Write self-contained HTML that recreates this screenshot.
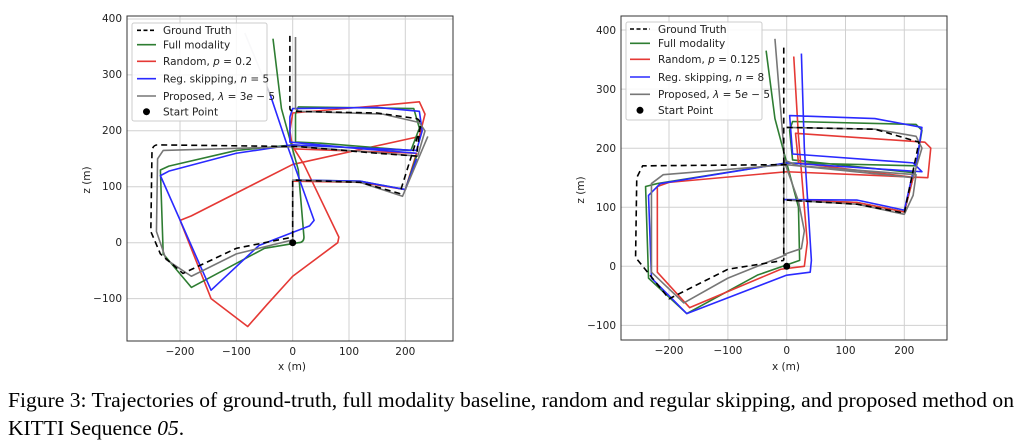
<!DOCTYPE html>
<html><head><meta charset="utf-8"><style>
body{margin:0;background:#fff;width:1024px;height:444px;overflow:hidden}
svg{position:absolute;left:0;top:0}
.t{font-family:"DejaVu Sans","Liberation Sans",sans-serif;font-size:10.5px;fill:#222}
.cap{font-family:"Liberation Serif",serif;font-size:21.5px;fill:#000}
.g{stroke:#d0d0d0;stroke-width:1}
path.s{fill:none;stroke-width:1.6;vector-effect:non-scaling-stroke;stroke-linejoin:round}
</style></head><body>
<svg width="1024" height="444">
<!-- LEFT PLOT -->
<g class="g">
<line x1="180" y1="16" x2="180" y2="341"/><line x1="236.4" y1="16" x2="236.4" y2="341"/><line x1="292.7" y1="16" x2="292.7" y2="341"/><line x1="349" y1="16" x2="349" y2="341"/><line x1="405.3" y1="16" x2="405.3" y2="341"/>
<line x1="127" y1="19" x2="453" y2="19"/><line x1="127" y1="74.9" x2="453" y2="74.9"/><line x1="127" y1="130.8" x2="453" y2="130.8"/><line x1="127" y1="186.8" x2="453" y2="186.8"/><line x1="127" y1="242.7" x2="453" y2="242.7"/><line x1="127" y1="298.6" x2="453" y2="298.6"/>
</g>
<g transform="translate(292.7,242.7) scale(0.563,-0.559)">
<path class="s" stroke="#e53935" d="M0 110 L120 108 L200 95 L220 160 L0 168 L-5 200 L0 232 L150 245 L225 252 L235 230 L225 190 L0 140 L-180 48 L-200 40 L-145 -100 L-80 -150 L-45 -110 L0 -60 L80 0 L82 10 L20 140 L0 172"/>
<path class="s" stroke="#2e7d32" d="M-35 365 L-20 240 L10 130 L20 10 Q20 0 10 0 L-50 -10 L-180 -80 L-230 -20 L-235 130 L-220 137 L-100 165 L0 175 L210 165 L225 205 L215 240 L10 243 L5 230 L5 180 L50 178 L210 165 M5 112 L120 110 L200 95 L220 155"/>
<path class="s" stroke="#2a2aff" d="M-40 265 L-10 175 L38 40 L30 30 L-60 -5 L-145 -85 L-235 120 L-220 128 L-100 160 L0 175 L220 165 L230 200 L225 235 L150 242 L0 240 L-5 225 L-5 180 L100 170 L220 160 M5 112 L120 110 L200 95 L220 150"/>
<path class="s" stroke="#aab" stroke-opacity="0.6" d="M-85 375 L-40 265"/>
<path class="s" stroke="#777" d="M5 368 L5 240 L10 235 L160 230 L225 215 L235 200 L222 155 L10 172 L-230 165 L-240 150 L-242 20 L-225 -30 L-180 -60 L-100 -20 L0 5 L0 112 L120 108 L195 83 L240 190"/>
<path class="s" stroke="#000" stroke-dasharray="6 4" d="M-5 370 L-5 240 Q-5 235 5 235 L150 232 L220 222 Q228 220 226 205 L220 155 L150 160 L10 172 L-240 175 Q-250 175 -250 160 L-252 20 L-235 -20 L-195 -55 L-100 -10 L0 10 L0 112 L120 108 L190 88 L228 210"/>
</g>
<circle cx="292.7" cy="242.7" r="3.5" fill="#000"/>
<rect x="127" y="16" width="326" height="325" fill="none" stroke="#333" stroke-width="1"/>
<g class="t" text-anchor="end">
<text x="122" y="22">400</text><text x="122" y="78">300</text><text x="122" y="134">200</text><text x="122" y="190">100</text><text x="122" y="246">0</text><text x="122" y="302">−100</text>
</g>
<g class="t" text-anchor="middle">
<text x="180" y="355">−200</text><text x="236.4" y="355">−100</text><text x="292.7" y="355">0</text><text x="349" y="355">100</text><text x="405.3" y="355">200</text>
<text x="292" y="370">x (m)</text>
<text transform="translate(90,180) rotate(-90)">z (m)</text>
</g>
<rect x="132" y="23" width="135" height="98" fill="#fff" fill-opacity="0.85" stroke="#ccc" rx="2"/>
<g stroke-width="1.6">
<line x1="137" y1="30.3" x2="156" y2="30.3" stroke="#000" stroke-dasharray="4 2.5"/>
<line x1="137" y1="44.7" x2="156" y2="44.7" stroke="#2e7d32"/>
<line x1="137" y1="61.3" x2="156" y2="61.3" stroke="#e53935"/>
<line x1="137" y1="78.7" x2="156" y2="78.7" stroke="#2a2aff"/>
<line x1="137" y1="96" x2="156" y2="96" stroke="#777"/>
</g><circle cx="146.5" cy="111.7" r="3.5" fill="#000"/>
<g class="t"><text x="163" y="34">Ground Truth</text><text x="163" y="48.5">Full modality</text><text x="163" y="65">Random, <tspan font-style="italic">p</tspan> = 0.2</text><text x="163" y="82.5">Reg. skipping, <tspan font-style="italic">n</tspan> = 5</text><text x="163" y="100">Proposed, <tspan font-style="italic">λ</tspan> = 3<tspan font-style="italic">e</tspan> − 5</text><text x="163" y="115.5">Start Point</text></g>

<!-- RIGHT PLOT -->
<g class="g">
<line x1="669" y1="16" x2="669" y2="340"/><line x1="727.9" y1="16" x2="727.9" y2="340"/><line x1="786.7" y1="16" x2="786.7" y2="340"/><line x1="845.5" y1="16" x2="845.5" y2="340"/><line x1="904.3" y1="16" x2="904.3" y2="340"/>
<line x1="621" y1="30" x2="947" y2="30"/><line x1="621" y1="89.1" x2="947" y2="89.1"/><line x1="621" y1="148.2" x2="947" y2="148.2"/><line x1="621" y1="207.2" x2="947" y2="207.2"/><line x1="621" y1="266.3" x2="947" y2="266.3"/><line x1="621" y1="325.4" x2="947" y2="325.4"/>
</g>
<g transform="translate(786.7,266.3) scale(0.588,-0.591)">
<path class="s" stroke="#2e7d32" d="M-35 365 L-20 250 L20 100 L22 10 L-50 -15 L-170 -80 L-235 -20 L-240 135 L-220 140 L0 175 L220 170 L230 230 L220 240 L10 245 L5 230 L10 180 L220 158 M5 112 L120 108 L200 92 L215 150"/>
<path class="s" stroke="#e53935" d="M12 355 L20 220 L35 40 L30 0 L-10 -5 L-165 -70 L-220 -10 L-220 135 L-200 142 L0 160 L240 150 L245 200 L235 210 L15 225 L20 175 L220 150 M5 112 L120 108 L200 92 L215 150"/>
<path class="s" stroke="#2a2aff" d="M25 360 L30 200 L42 10 L40 -10 L0 -15 L-170 -80 L-230 -20 L-235 120 L-215 140 L0 175 L230 160 L215 175 L10 190 L5 255 L150 250 L230 235 L220 170 M-5 113 L120 112 L200 95 L215 160"/>
<path class="s" stroke="#777" d="M-20 385 L-5 200 L-5 20 L25 30 L30 60 L20 110 L-5 180 L20 170 L220 155 L215 120 L200 88 L120 105 L0 112 M0 235 L150 232 L220 220 L230 200 L215 150 L0 172 L-210 155 L-230 140 L-230 -10 L-175 -62 L-100 -20 L0 20"/>
<path class="s" stroke="#000" stroke-dasharray="6 4" d="M-5 370 L-5 10 M0 235 L150 232 L225 210 L200 90 L120 105 L0 112 M0 172 L-245 170 L-255 150 L-257 15 L-200 -55 L-100 -5 L-5 10"/>
</g>
<circle cx="786.7" cy="266.3" r="3.5" fill="#000"/>
<rect x="621" y="16" width="326" height="324" fill="none" stroke="#333" stroke-width="1"/>
<g class="t" text-anchor="end">
<text x="616" y="34">400</text><text x="616" y="93">300</text><text x="616" y="152">200</text><text x="616" y="211">100</text><text x="616" y="270">0</text><text x="616" y="329">−100</text>
</g>
<g class="t" text-anchor="middle">
<text x="669" y="354">−200</text><text x="727.9" y="354">−100</text><text x="786.7" y="354">0</text><text x="845.5" y="354">100</text><text x="904.3" y="354">200</text>
<text x="786" y="370">x (m)</text>
<text transform="translate(584,190) rotate(-90)">z (m)</text>
</g>
<rect x="626" y="22" width="136" height="98" fill="#fff" fill-opacity="0.85" stroke="#ccc" rx="2"/>
<g stroke-width="1.6">
<line x1="630" y1="29" x2="650" y2="29" stroke="#000" stroke-dasharray="4 2.5"/>
<line x1="630" y1="43.3" x2="650" y2="43.3" stroke="#2e7d32"/>
<line x1="630" y1="59.3" x2="650" y2="59.3" stroke="#e53935"/>
<line x1="630" y1="77" x2="650" y2="77" stroke="#2a2aff"/>
<line x1="630" y1="94.3" x2="650" y2="94.3" stroke="#777"/>
</g><circle cx="640" cy="110.3" r="3.5" fill="#000"/>
<g class="t"><text x="658" y="33">Ground Truth</text><text x="658" y="47">Full modality</text><text x="658" y="63">Random, <tspan font-style="italic">p</tspan> = 0.125</text><text x="658" y="81">Reg. skipping, <tspan font-style="italic">n</tspan> = 8</text><text x="658" y="98">Proposed, <tspan font-style="italic">λ</tspan> = 5<tspan font-style="italic">e</tspan> − 5</text><text x="658" y="114">Start Point</text></g>

<text class="cap" x="8" y="407" textLength="1006" lengthAdjust="spacingAndGlyphs">Figure 3: Trajectories of ground-truth, full modality baseline, random and regular skipping, and proposed method on</text>
<text class="cap" x="8" y="435">KITTI Sequence <tspan font-style="italic">05</tspan>.</text>
</svg>
</body></html>
